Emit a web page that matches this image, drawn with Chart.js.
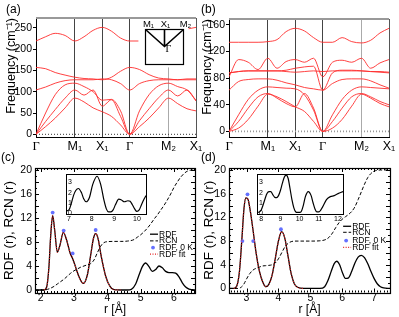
<!DOCTYPE html>
<html>
<head>
<meta charset="utf-8">
<script src="https://cdn.jsdelivr.net/npm/chart.js@4.4.1/dist/chart.umd.min.js"></script>
<style>
  body { margin: 0; background: #fff; }
  #fig { position: relative; width: 399px; height: 317px; overflow: hidden; background: #fff; }
  #fig canvas { position: absolute; }
  .tag { position: absolute; font: 12px "Liberation Sans", Arial, sans-serif; color: #000; }
</style>
</head>
<body>
<div id="fig">
  <canvas id="chartA" width="206" height="160" style="left:0;top:0"></canvas>
  <canvas id="chartB" width="199" height="160" style="left:200px;top:0"></canvas>
  <canvas id="chartC" width="200" height="162" style="left:0;top:155px"></canvas>
  <canvas id="chartD" width="199" height="162" style="left:200px;top:155px"></canvas>
  <canvas id="insetC" width="90" height="56" style="left:60px;top:168px"></canvas>
  <canvas id="insetD" width="98" height="56" style="left:250px;top:168px"></canvas>
  <div class="tag" style="left:6px;top:2px">(a)</div>
  <div class="tag" style="left:201px;top:2px">(b)</div>
  <div class="tag" style="left:1px;top:150px">(c)</div>
  <div class="tag" style="left:201px;top:150px">(d)</div>
</div>
<script>
// ---------- phonon dispersion, panels (a) and (b) ----------
const kNodes = [0, 1.414, 2.414, 3.414, 4.828, 5.828];
const kNodeLabels = ['Γ', 'M₁', 'X₁', 'Γ', 'M₂', 'X₁'];
const kGrid = [0, 0.35, 0.7, 1.06, 1.414, 1.75, 2.08, 2.414, 2.75, 3.08, 3.414, 3.77, 4.12, 4.47, 4.828, 5.16, 5.5, 5.828];

const aTop  = [219, 229, 237, 232, 219, 229, 244, 251, 242, 226, 219, 219, 224, 232, 236, 242, 247, 251];
const aOpt1 = [157, 154, 145, 139, 134, 131, 130, 128, 134, 148, 157, 152, 140, 132, 130, 128, 128, 128];
const aOpt2 = [104, 111, 120, 126, 128, 128, 128, 130, 128, 119, 104, 119, 126, 128, 128, 128, 130, 130];
const aAc1  = [0, 50, 93, 116, 120, 112, 100, 80, 82, 55, 0, 55, 93, 114, 120, 112, 104, 80];
const aAc2  = [0, 30, 58, 85, 104, 92, 104, 66, 81, 42, 0, 32, 60, 86, 104, 90, 104, 78];
const aAc3  = [0, 18, 38, 62, 85, 76, 62, 53, 42, 22, 0, 18, 38, 62, 85, 72, 60, 55];
const freqTicksA = [0, 25, 50, 75, 100, 125, 150, 175, 200, 225, 250];
const freqLabelsA = [0, 50, 100, 150, 200, 250];

const bTop  = [134, 134, 134, 134, 135, 138, 150, 155, 151, 141, 134, 134, 141, 135, 133, 137, 148, 155];
const bOpt1 = [82, 108, 104, 93, 110, 95, 105, 108, 104, 110, 82, 104, 107, 104, 110, 95, 103, 108];
const bOpt2 = [88, 90, 91, 91, 91, 91, 90, 89, 90, 91, 90, 91, 91, 91, 91, 90, 90, 89];
const bOpt3 = [62, 75, 78, 79, 79, 77, 73, 70, 66, 64, 62, 72, 78, 79, 79, 76, 70, 65];
const bOpt4 = [88, 90, 91, 91, 91, 91, 92, 95, 97, 98, 62, 88, 92, 92, 91, 90, 89, 88];
const bAc1  = [0, 25, 48, 62, 67, 66, 65, 64, 55, 32, 0, 25, 48, 62, 67, 66, 65, 64];
const bAc2  = [0, 15, 35, 52, 57, 50, 42, 37, 57, 35, 0, 15, 35, 52, 57, 52, 45, 40];
const bAc3  = [0, 5, 18, 38, 56, 52, 45, 37, 30, 15, 0, 5, 18, 38, 56, 50, 42, 37];
const freqTicksB = [0, 20, 40, 60, 80, 100, 120, 140, 160];
const freqLabelsB = [0, 40, 80, 120, 160];

// ---------- RDF / RCN, panels (c) and (d) ----------
const rdfC_r = [1.83, 2.1, 2.18, 2.25, 2.3, 2.36, 2.42, 2.5, 2.58, 2.68, 2.78, 2.88, 2.96, 3.05, 3.15, 3.28, 3.4, 3.5, 3.58, 3.65, 3.72, 3.82, 3.95, 4.08, 4.2, 4.4, 4.6, 4.72, 4.85, 4.95, 5.05, 5.15, 5.25, 5.35, 5.45, 5.55, 5.65, 5.75, 5.85, 5.95, 6.05, 6.15, 6.25, 6.35, 6.45, 6.55, 6.65];
const rdfC_g = [0, 0, 0.5, 4, 9, 12.4, 10, 6.3, 7.5, 9.6, 8.3, 6.2, 5.2, 3.8, 2.2, 1.1, 2.5, 5.8, 8.5, 9.4, 8.6, 5.5, 2.3, 0.6, 0.05, 0, 0, 0.1, 1.0, 2.5, 3.9, 4.5, 3.9, 3.1, 3.4, 4.0, 3.7, 3.1, 2.9, 2.9, 2.8, 2.2, 1.2, 0.5, 0.15, 0.05, 0];
const rcnC_r = [1.83, 2.1, 2.2, 2.3, 2.4, 2.5, 2.6, 2.7, 2.8, 2.9, 3.0, 3.1, 3.2, 3.3, 3.4, 3.5, 3.6, 3.7, 3.8, 3.9, 4.0, 4.2, 4.4, 4.6, 4.8, 4.9, 5.0, 5.1, 5.2, 5.3, 5.4, 5.5, 5.6, 5.7, 5.8, 5.9, 6.0, 6.1, 6.2, 6.3, 6.4, 6.5, 6.65];
const rcnC_n = [0, 0, 0.1, 0.3, 0.6, 1.0, 1.4, 1.8, 2.3, 2.8, 3.2, 3.5, 3.8, 4.0, 4.2, 4.4, 5.0, 6.2, 7.3, 7.9, 8.05, 8.1, 8.1, 8.15, 8.4, 8.8, 9.2, 9.7, 10.3, 11.0, 11.8, 12.5, 13.3, 14.1, 15.0, 16.0, 17.1, 18.0, 18.8, 19.4, 19.8, 19.95, 20];
const zeroKC_r = [2.36, 2.69, 2.96, 3.65];
const zeroKC_g = [12.9, 9.9, 6.1, 10.0];
const fitC_r = [2.1, 2.18, 2.25, 2.3, 2.36, 2.42, 2.5, 2.58, 2.68, 2.78, 2.88, 2.96, 3.05, 3.15, 3.28, 3.4, 3.5, 3.58, 3.65, 3.72, 3.82, 3.95, 4.08, 4.2, 4.4];
const fitC_g = [0, 0.5, 4, 9, 12.4, 10, 6.3, 7.5, 9.6, 8.3, 6.2, 5.2, 3.8, 2.2, 1.1, 2.5, 5.8, 8.5, 9.4, 8.6, 5.5, 2.3, 0.6, 0.05, 0];
const insetC_r = [6.87, 7.0, 7.1, 7.2, 7.3, 7.42, 7.55, 7.65, 7.76, 7.9, 8.05, 8.24, 8.4, 8.55, 8.65, 8.75, 8.85, 8.95, 9.05, 9.2, 9.3, 9.45, 9.6, 9.7, 9.8, 9.9, 10.0, 10.1, 10.2, 10.3, 10.4];
const insetC_g = [0.2, 0.3, 0.9, 1.7, 2.2, 2.4, 2.0, 1.4, 1.1, 1.5, 2.8, 3.6, 2.8, 1.2, 0.4, 0.1, 0.1, 0.3, 0.8, 1.35, 1.3, 1.1, 1.2, 1.15, 0.8, 0.4, 0.15, 0.3, 0.8, 1.3, 1.7];

const rdfD_r = [2.45, 2.6, 2.7, 2.78, 2.85, 2.92, 2.98, 3.05, 3.12, 3.2, 3.3, 3.4, 3.5, 3.6, 3.7, 3.8, 3.9, 4.0, 4.1, 4.2, 4.3, 4.4, 4.5, 4.6, 4.8, 5.0, 5.3, 5.45, 5.55, 5.65, 5.75, 5.83, 5.92, 6.0, 6.1, 6.2, 6.3, 6.4, 6.5, 6.6, 6.7, 6.8, 6.9, 7.0, 7.1, 7.2, 7.3, 7.5];
const rdfD_g = [0, 0, 0.5, 3, 8, 13.5, 15.3, 15, 13, 10, 6, 3, 1.2, 0.3, 0.7, 2.2, 5, 8, 9.6, 8.5, 5.5, 2.5, 0.8, 0.2, 0, 0, 0, 0.3, 1.3, 2.8, 4.2, 4.6, 4.0, 2.8, 1.7, 1.8, 2.9, 4.3, 5.3, 5.6, 5.2, 4.2, 2.9, 1.7, 0.8, 0.3, 0.1, 0];
const rcnD_r = [2.45, 2.7, 2.8, 2.9, 3.0, 3.1, 3.2, 3.3, 3.4, 3.5, 3.6, 3.7, 3.8, 3.9, 4.0, 4.1, 4.2, 4.3, 4.4, 4.5, 4.7, 5.0, 5.3, 5.5, 5.6, 5.7, 5.8, 5.9, 6.0, 6.1, 6.2, 6.3, 6.4, 6.5, 6.6, 6.7, 6.8, 6.9, 7.0, 7.1, 7.2, 7.5];
const rcnD_n = [0, 0, 0.1, 0.6, 1.6, 2.5, 3.1, 3.4, 3.6, 3.8, 3.85, 3.9, 4.0, 4.3, 5.0, 6.0, 7.0, 7.6, 7.9, 8.0, 8.0, 8.0, 8.05, 8.3, 8.7, 9.4, 10.3, 11.1, 11.7, 12.1, 12.5, 13.0, 13.8, 15.0, 16.3, 17.6, 18.7, 19.4, 19.8, 19.95, 20, 20];
const zeroKD_r = [2.87, 3.03, 3.21, 4.08];
const zeroKD_g = [8.0, 15.9, 8.0, 10.0];
const fitD_r = [2.6, 2.7, 2.78, 2.85, 2.92, 2.98, 3.05, 3.12, 3.2, 3.3, 3.4, 3.5, 3.6, 3.7, 3.8, 3.9, 4.0, 4.1, 4.2, 4.3, 4.4, 4.5, 4.6, 4.8];
const fitD_g = [0, 0.5, 3, 8, 13.5, 15.3, 15, 13, 10, 6, 3, 1.2, 0.3, 0.7, 2.2, 5, 8, 9.6, 8.5, 5.5, 2.5, 0.8, 0.2, 0];
const insetD_r = [7.78, 7.9, 8.0, 8.1, 8.2, 8.3, 8.4, 8.5, 8.6, 8.7, 8.8, 8.9, 9.0, 9.1, 9.2, 9.3, 9.4, 9.5, 9.6, 9.7, 9.8, 9.9, 10.0, 10.1, 10.2, 10.3, 10.45, 10.6, 10.7, 10.8, 10.9, 11.0, 11.2, 11.4, 11.6, 11.8, 12.0, 12.26];
const insetD_g = [0.05, 0.1, 0.3, 0.8, 1.4, 1.9, 2.1, 2.1, 1.8, 1.55, 1.5, 1.7, 2.2, 2.9, 3.5, 3.7, 3.4, 2.4, 1.3, 0.5, 0.1, 0.05, 0.05, 0.2, 0.8, 1.6, 2.1, 1.7, 1.0, 0.4, 0.1, 0.1, 0.6, 1.3, 1.6, 1.7, 1.9, 2.1];

const rdfTicksY = [0, 2, 4, 6, 8, 10, 12, 14, 16, 18, 20];
const rTicksC = [2, 3, 4, 5, 6];
const rTicksD = [3, 4, 5, 6, 7];
const insetTicksY = [0, 1, 2, 3];
const insetTicksC = [7, 8, 9, 10];
const insetTicksD = [8, 9, 10, 11, 12];

Chart.defaults.font.family = '"Liberation Sans", Arial, sans-serif';
Chart.defaults.color = '#000';

const pts = (xs, ys) => xs.map((x, i) => ({ x, y: ys[i] }));

// top / right frame edges for the band plots
const frameLines = {
  id: 'frameLines',
  afterDraw(chart, args, o) {
    const { ctx, chartArea: a } = chart;
    ctx.save();
    ctx.strokeStyle = o.topColor;
    ctx.lineWidth = o.topWidth;
    ctx.beginPath(); ctx.moveTo(a.left, a.top); ctx.lineTo(a.right, a.top); ctx.stroke();
    ctx.strokeStyle = o.rightColor;
    ctx.lineWidth = 1;
    ctx.beginPath(); ctx.moveTo(Math.round(a.right) + 0.5, a.top); ctx.lineTo(Math.round(a.right) + 0.5, a.bottom); ctx.stroke();
    ctx.restore();
  }
};

// Brillouin-zone sketch inside panel (a)
const bzInset = {
  id: 'bzInset',
  afterDatasetsDraw(chart, args, o) {
    const { ctx, chartArea: a, scales: { x, y } } = chart;
    const X = v => x.getPixelForValue(v), Y = v => y.getPixelForValue(v);
    ctx.save();
    ctx.fillStyle = '#fff';
    ctx.fillRect(X(o.clear[0]), a.top, X(o.clear[1]) - X(o.clear[0]), Y(o.clear[2]) - a.top);
    const l = Math.round(X(o.box[0])) + 0.5, r = Math.round(X(o.box[1])) + 0.5;
    const t = Math.round(Y(o.box[3])) + 0.5, b = Math.round(Y(o.box[2])) + 0.5;
    const m = (l + r) / 2, g = Y(o.gamma);
    ctx.strokeStyle = '#000';
    ctx.lineWidth = 1.2;
    ctx.strokeRect(l, t, r - l, b - t);
    ctx.lineWidth = 1.6;
    ctx.beginPath();
    ctx.moveTo(l, t); ctx.lineTo(m, g); ctx.lineTo(r, t);
    ctx.moveTo(m, t); ctx.lineTo(m, g);
    ctx.stroke();
    ctx.fillStyle = '#000';
    ctx.font = '9.5px "Liberation Sans"';
    ctx.textAlign = 'center';
    ctx.textBaseline = 'alphabetic';
    ctx.fillText('M₁', l + 3, t - 3);
    ctx.fillText('X₁', m + 1, t - 3);
    ctx.fillText('M₂', r + 2, t - 3);
    ctx.font = '10px "Liberation Serif"';
    ctx.textAlign = 'left';
    ctx.textBaseline = 'middle';
    ctx.fillText('Γ', m + 1, g + 3);
    ctx.restore();
  }
};

// box frame with inward ticks for the RDF panels
const frameTicks = {
  id: 'frameTicks',
  afterDraw(chart, args, o) {
    const { ctx, chartArea: a, scales: { x, y } } = chart;
    ctx.save();
    ctx.strokeStyle = '#000';
    ctx.lineWidth = 1;
    ctx.beginPath();
    const seg = (x0, y0, x1, y1) => { ctx.moveTo(x0, y0); ctx.lineTo(x1, y1); };
    for (let v = Math.ceil(x.min / o.xStep) * o.xStep; v <= x.max + 1e-9; v += o.xStep) {
      const p = Math.round(x.getPixelForValue(v)) + 0.5;
      const major = Math.abs(v - Math.round(v)) < 1e-6;
      const len = major ? 4 : 2;
      seg(p, a.bottom, p, a.bottom - len);
      seg(p, a.top, p, a.top + len);
    }
    for (let v = Math.ceil(y.min); v <= y.max + 1e-9; v += 1) {
      const p = Math.round(y.getPixelForValue(v)) + 0.5;
      const len = v % 2 === 0 ? 4 : 2;
      seg(a.left, p, a.left + len, p);
      seg(a.right, p, a.right - len, p);
    }
    ctx.stroke();
    ctx.lineWidth = 1.2;
    ctx.strokeRect(Math.round(a.left) + 0.5, Math.round(a.top) + 0.5, Math.round(a.right - a.left), Math.round(a.bottom - a.top));
    ctx.restore();
  }
};

// legend drawn inside the RDF panels, anchored in data units
const rdfLegend = {
  id: 'rdfLegend',
  afterDraw(chart, args, o) {
    const { ctx, scales } = chart;
    const x = scales.x.getPixelForValue(o.atX);
    const y0 = scales.y.getPixelForValue(o.atY);
    ctx.save();
    ctx.font = o.font;
    ctx.textBaseline = 'middle';
    chart.data.datasets.forEach((ds, i) => {
      const y = y0 + o.rows[i];
      if (ds.showLine === false) {
        ctx.fillStyle = ds.pointBackgroundColor;
        ctx.beginPath(); ctx.arc(x + 3, y, ds.pointRadius, 0, Math.PI * 2); ctx.fill();
      } else {
        ctx.strokeStyle = ds.borderColor;
        ctx.lineWidth = ds.borderWidth;
        ctx.setLineDash(ds.borderDash || []);
        ctx.beginPath(); ctx.moveTo(x, y); ctx.lineTo(x + o.len, y); ctx.stroke();
        ctx.setLineDash([]);
      }
      ctx.fillStyle = '#000';
      ctx.fillText(ds.label, x + o.len + 1, y);
    });
    ctx.restore();
  }
};

// white plot area + frame for the small insets
const boxFrame = {
  id: 'boxFrame',
  beforeDraw(chart) {
    const { ctx, chartArea: a } = chart;
    ctx.save(); ctx.fillStyle = '#fff'; ctx.fillRect(a.left, a.top, a.right - a.left, a.bottom - a.top); ctx.restore();
  },
  afterDraw(chart) {
    const { ctx, chartArea: a } = chart;
    ctx.save(); ctx.strokeStyle = '#000'; ctx.lineWidth = 1;
    ctx.strokeRect(Math.round(a.left) + 0.5, Math.round(a.top) + 0.5, Math.round(a.right - a.left), Math.round(a.bottom - a.top));
    ctx.restore();
  }
};

function bandChart(id, bands, opt) {
  const datasets = bands.map(b => ({
    data: pts(kGrid, b),
    borderColor: 'rgba(255,45,45,0.9)',
    borderWidth: 1,
    pointRadius: 0,
    cubicInterpolationMode: 'monotone'
  }));
  datasets.push({
    data: pts([kNodes[0], kNodes[kNodes.length - 1]], [0, 0]),
    borderColor: opt.zeroColor,
    borderWidth: opt.zeroWidth,
    borderDash: [1, 2],
    pointRadius: 0
  });
  return new Chart(document.getElementById(id), {
    type: 'line',
    data: { datasets },
    options: {
      responsive: false,
      animation: false,
      devicePixelRatio: 1,
      layout: { padding: opt.padding },
      plugins: {
        legend: { display: false },
        tooltip: { enabled: false },
        frameLines: { topColor: '#999', topWidth: 2, rightColor: '#555' },
        bzInset: opt.bz || false
      },
      scales: {
        x: {
          type: 'linear',
          min: kNodes[0],
          max: kNodes[kNodes.length - 1],
          afterFit: s => { s.height = opt.xHeight; },
          afterBuildTicks: s => { s.ticks = kNodes.map(v => ({ value: v })); },
          grid: { color: c => (c.index === 4 ? '#aaa' : '#444'), lineWidth: 1, drawTicks: false },
          border: { color: '#000' },
          ticks: {
            autoSkip: false, maxRotation: 0, padding: 2,
            callback: (v, i) => kNodeLabels[i],
            font: c => ({ family: kNodeLabels[c.index] === 'Γ' ? '"Liberation Serif", serif' : '"Liberation Sans", sans-serif', size: 12.5 })
          }
        },
        y: {
          type: 'linear',
          min: opt.yMin,
          max: opt.yMax,
          afterFit: s => { s.width = opt.yWidth; },
          afterBuildTicks: s => { s.ticks = opt.yTicks.map(v => ({ value: v })); },
          grid: { drawOnChartArea: false, tickLength: 3, color: '#000' },
          border: { color: '#000' },
          ticks: { padding: 1, font: { size: 10.5 }, callback: v => (opt.yLabels.includes(v) ? String(v) : '') },
          title: { display: true, text: 'Frequency (cm⁻¹)', align: 'end', font: { size: 12.5 }, padding: { top: opt.titlePad, bottom: 0 } }
        }
      }
    },
    plugins: [frameLines, bzInset]
  });
}

function rdfChart(id, d, opt) {
  return new Chart(document.getElementById(id), {
    type: 'line',
    data: {
      datasets: [
        { label: 'RDF', data: pts(d.r, d.g), borderColor: '#000', borderWidth: 1.3, pointRadius: 0, cubicInterpolationMode: 'monotone', order: 2 },
        { label: 'RCN', data: pts(d.rn, d.n), borderColor: '#000', borderWidth: 1, borderDash: [3.5, 2], pointRadius: 0, cubicInterpolationMode: 'monotone', order: 3 },
        { label: 'RDF, 0 K', data: pts(d.r0, d.g0), showLine: false, pointRadius: 1.9, pointBackgroundColor: '#6470ff', pointBorderWidth: 0, order: 1 },
        { label: 'RDF fit', data: pts(d.rf, d.gf), borderColor: '#e52020', borderWidth: 1.2, borderDash: [1, 1.5], pointRadius: 0, cubicInterpolationMode: 'monotone', order: 0 }
      ]
    },
    options: {
      responsive: false,
      animation: false,
      devicePixelRatio: 1,
      layout: { padding: opt.padding },
      plugins: {
        legend: { display: false },
        tooltip: { enabled: false },
        frameTicks: { xStep: 0.1 },
        rdfLegend: opt.legend
      },
      scales: {
        x: {
          type: 'linear',
          min: opt.xMin,
          max: opt.xMax,
          afterFit: s => { s.height = opt.xHeight; },
          afterBuildTicks: s => { s.ticks = opt.xTicks.map(v => ({ value: v })); },
          grid: { display: false, drawTicks: false },
          border: { display: false },
          ticks: { autoSkip: false, maxRotation: 0, padding: -1, font: { size: 10.5 } },
          title: { display: true, text: 'r [Å]', font: { size: 12 }, padding: { top: 0, bottom: 0 } }
        },
        y: {
          type: 'linear',
          min: opt.yMin,
          max: opt.yMax,
          afterFit: s => { s.width = opt.yWidth; },
          afterBuildTicks: s => { s.ticks = rdfTicksY.map(v => ({ value: v })); },
          grid: { display: false, drawTicks: false },
          border: { display: false },
          ticks: { padding: 3, font: { size: 10.5 } },
          title: { display: true, text: 'RDF (r), RCN (r)', font: { size: 13.5 }, padding: { top: 1, bottom: 0 } }
        }
      }
    },
    plugins: [frameTicks, rdfLegend]
  });
}

function insetChart(id, r, g, opt) {
  return new Chart(document.getElementById(id), {
    type: 'line',
    data: { datasets: [{ data: pts(r, g), borderColor: '#000', borderWidth: 1.2, pointRadius: 0, cubicInterpolationMode: 'monotone' }] },
    options: {
      responsive: false,
      animation: false,
      devicePixelRatio: 1,
      layout: { padding: opt.padding },
      plugins: { legend: { display: false }, tooltip: { enabled: false } },
      scales: {
        x: {
          type: 'linear',
          min: opt.xMin,
          max: opt.xMax,
          afterFit: s => { s.height = opt.xHeight; },
          afterBuildTicks: s => { s.ticks = opt.xTicks.map(v => ({ value: v })); },
          grid: { display: false, drawTicks: false },
          border: { display: false },
          ticks: { autoSkip: false, maxRotation: 0, padding: 1, font: { size: 7 } }
        },
        y: {
          type: 'linear',
          min: -0.1,
          max: 3.8,
          afterFit: s => { s.width = 0; },
          afterBuildTicks: s => { s.ticks = insetTicksY.map(v => ({ value: v })); },
          grid: { display: false, drawTicks: false },
          border: { display: false },
          ticks: { mirror: true, padding: 2, font: { size: 7 } }
        }
      }
    },
    plugins: [boxFrame]
  });
}

bandChart('chartA', [aTop, aOpt1, aOpt2, aAc1, aAc2, aAc3], {
  padding: { top: 18, right: 10, left: 0, bottom: 0 },
  xHeight: 22.5, yWidth: 36, titlePad: 4,
  yMin: -7.5, yMax: 273, yTicks: freqTicksA, yLabels: freqLabelsA,
  zeroColor: '#333', zeroWidth: 1,
  bz: { clear: [3.73, 5.56, 157], box: [3.98, 5.37, 165.8, 247.6], gamma: 206 }
});

bandChart('chartB', [bTop, bOpt1, bOpt2, bOpt3, bOpt4, bAc1, bAc2, bAc3], {
  padding: { top: 19, right: 10, left: 0, bottom: 0 },
  xHeight: 23, yWidth: 29, titlePad: 0.5,
  yMin: -8.4, yMax: 169, yTicks: freqTicksB, yLabels: freqLabelsB,
  zeroColor: '#999', zeroWidth: 1.6
});

rdfChart('chartC', { r: rdfC_r, g: rdfC_g, rn: rcnC_r, n: rcnC_n, r0: zeroKC_r, g0: zeroKC_g, rf: fitC_r, gf: fitC_g }, {
  padding: { top: 13, right: 5, left: 0, bottom: 0 },
  xHeight: 24, yWidth: 35,
  xMin: 1.83, xMax: 6.63, yMin: -0.5, yMax: 20.33, xTicks: rTicksC,
  legend: { atX: 5.28, atY: 9.3, rows: [0, 6.7, 13.4, 20], len: 8, font: '8.5px "Liberation Sans"' }
});

rdfChart('chartD', { r: rdfD_r, g: rdfD_g, rn: rcnD_r, n: rcnD_n, r0: zeroKD_r, g0: zeroKD_g, rf: fitD_r, gf: fitD_g }, {
  padding: { top: 13, right: 9, left: 0, bottom: 0 },
  xHeight: 24.5, yWidth: 29,
  xMin: 2.45, xMax: 7.5, yMin: -0.68, yMax: 20.34, xTicks: rTicksD,
  legend: { atX: 6.03, atY: 10.5, rows: [0, 6, 14.3, 21], len: 8, font: '8.5px "Liberation Sans"' }
});

insetChart('insetC', insetC_r, insetC_g, {
  padding: { top: 3, right: 4, left: 6, bottom: 0 },
  xHeight: 10, xMin: 6.87, xMax: 10.4, xTicks: insetTicksC
});

insetChart('insetD', insetD_r, insetD_g, {
  padding: { top: 3, right: 5, left: 7, bottom: 0 },
  xHeight: 10, xMin: 7.78, xMax: 12.26, xTicks: insetTicksD
});
</script>
</body>
</html>
